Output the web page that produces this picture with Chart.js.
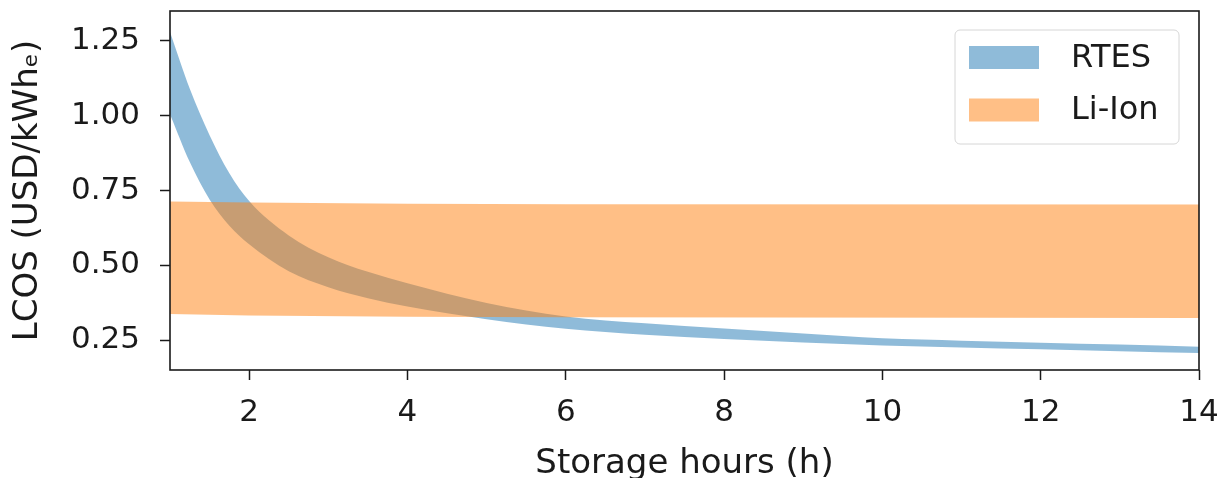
<!DOCTYPE html>
<html>
<head>
<meta charset="utf-8">
<script src="https://cdn.jsdelivr.net/npm/chart.js@4/dist/chart.umd.min.js"></script>
<style>
html,body{margin:0;padding:0;background:#fff;}
</style>
</head>
<body>
<canvas id="lcosChart" width="1222" height="478"></canvas>
<script>
// ---------- data ----------
const hours    = [1, 1.25, 1.5, 1.75, 2, 2.5, 3, 3.5, 4, 5, 6, 7, 8, 9, 10, 11, 12, 13, 14];
const rtesHigh = [1.28, 1.09, 0.935, 0.808, 0.715, 0.60, 0.527, 0.478, 0.44, 0.374, 0.329, 0.306, 0.289, 0.272, 0.256, 0.248, 0.241, 0.235, 0.228];
const rtesLow  = [1.005, 0.845, 0.72, 0.632, 0.57, 0.48, 0.427, 0.39, 0.362, 0.32, 0.288, 0.268, 0.254, 0.242, 0.232, 0.225, 0.219, 0.213, 0.207];

const liHours = [1, 2, 4, 6, 14];
const liHigh  = [0.713, 0.71, 0.706, 0.704, 0.703];
const liLow   = [0.337, 0.332, 0.328, 0.326, 0.324];

const xTicks = [2, 4, 6, 8, 10, 12, 14];
const yTicks = [0.25, 0.5, 0.75, 1.0, 1.25];
const legendOrder = ["RTES", "Li-Ion"];

// ---------- style ----------
const BLUE = "rgba(31,119,180,0.5)";
const ORANGE = "rgba(255,127,14,0.5)";
const FONT = "'DejaVu Sans', sans-serif";
const INK = "#1a1a1a";

function pts(xs, ys){
    return xs.map((x, i) => ({x: x, y: ys[i]}));
}

function band(label, data, fill, color, smooth){
    return {
        label: label,
        data: data,
        fill: fill,
        backgroundColor: color,
        borderColor: "rgba(0,0,0,0)",
        borderWidth: 0,
        pointRadius: 0,
        cubicInterpolationMode: smooth ? "monotone" : "default"
    };
}

// frame round the plot (all four spines)
const frame = {
    id: "frame",
    afterDatasetsDraw(chart){
        const a = chart.chartArea, ctx = chart.ctx;
        ctx.save();
        ctx.strokeStyle = INK;
        ctx.lineWidth = 1.6;
        ctx.strokeRect(a.left, a.top, a.right - a.left, a.bottom - a.top);
        ctx.restore();
    }
};

// matplotlib style legend inside the plot, upper right
const boxLegend = {
    id: "boxLegend",
    afterDraw(chart){
        const a = chart.chartArea, ctx = chart.ctx;
        const w = 224, h = 114;
        const x0 = a.right - 20 - w, y0 = a.top + 19;
        ctx.save();
        ctx.beginPath();
        ctx.roundRect(x0, y0, w, h, 5);
        ctx.fillStyle = "rgba(255,255,255,0.8)";
        ctx.fill();
        ctx.strokeStyle = "#d6d6d6";
        ctx.lineWidth = 1;
        ctx.stroke();
        ctx.font = "32px " + FONT;
        ctx.textBaseline = "middle";
        ctx.textAlign = "left";
        legendOrder.forEach((name, i) => {
            const ds = chart.data.datasets.find(d => d.label === name);
            const cy = y0 + 27.5 + i * 52.5;
            ctx.fillStyle = ds.backgroundColor;
            ctx.fillRect(x0 + 14, cy - 11.5, 70, 23);
            ctx.fillStyle = INK;
            ctx.fillText(name, x0 + 116, cy + 1);
        });
        ctx.restore();
    }
};

// Li-Ion first so it is painted on top of RTES
const chart = new Chart(document.getElementById("lcosChart"), {
    type: "line",
    data: {
        datasets: [
            band("Li-Ion", pts(liHours, liHigh), "+1", ORANGE, false),
            band("Li-Ion low", pts(liHours, liLow), false, ORANGE, false),
            band("RTES", pts(hours, rtesHigh), "+1", BLUE, true),
            band("RTES low", pts(hours, rtesLow), false, BLUE, true)
        ]
    },
    options: {
        responsive: false,
        animation: false,
        devicePixelRatio: 1,
        layout: {padding: {top: 11, right: 23, left: 0, bottom: 0}},
        plugins: {
            legend: {display: false},
            tooltip: {enabled: false}
        },
        scales: {
            x: {
                type: "linear",
                min: 1,
                max: 14,
                afterBuildTicks: s => { s.ticks = xTicks.map(v => ({value: v})); },
                afterFit: s => { s.height = 108; s.paddingLeft = 0; s.paddingRight = 0; },
                grid: {drawOnChartArea: false, drawTicks: true, tickLength: 10, tickColor: INK, tickWidth: 1.5},
                border: {display: false},
                ticks: {
                    color: INK,
                    padding: 17,
                    maxRotation: 0,
                    font: {family: FONT, size: 31, lineHeight: 1},
                    callback: v => String(v)
                },
                title: {
                    display: true,
                    text: "Storage hours (h)",
                    color: INK,
                    font: {family: FONT, size: 34, lineHeight: 0.82},
                    padding: {top: 0, bottom: 0}
                }
            },
            y: {
                type: "linear",
                min: 0.15,
                max: 1.35,
                afterBuildTicks: s => { s.ticks = yTicks.map(v => ({value: v})); },
                afterFit: s => { s.width = 170; s.paddingTop = 0; s.paddingBottom = 0; },
                grid: {drawOnChartArea: false, drawTicks: true, tickLength: 10, tickColor: INK, tickWidth: 1.5},
                border: {display: false},
                ticks: {
                    color: INK,
                    padding: 20,
                    font: {family: FONT, size: 31, lineHeight: 1},
                    callback: v => Number(v).toFixed(2)
                },
                title: {
                    display: true,
                    text: "LCOS (USD/kWhₑ)",
                    color: INK,
                    font: {family: FONT, size: 34, lineHeight: 1},
                    padding: {top: 11, bottom: 0}
                }
            }
        }
    },
    plugins: [frame, boxLegend]
});
</script>
</body>
</html>
